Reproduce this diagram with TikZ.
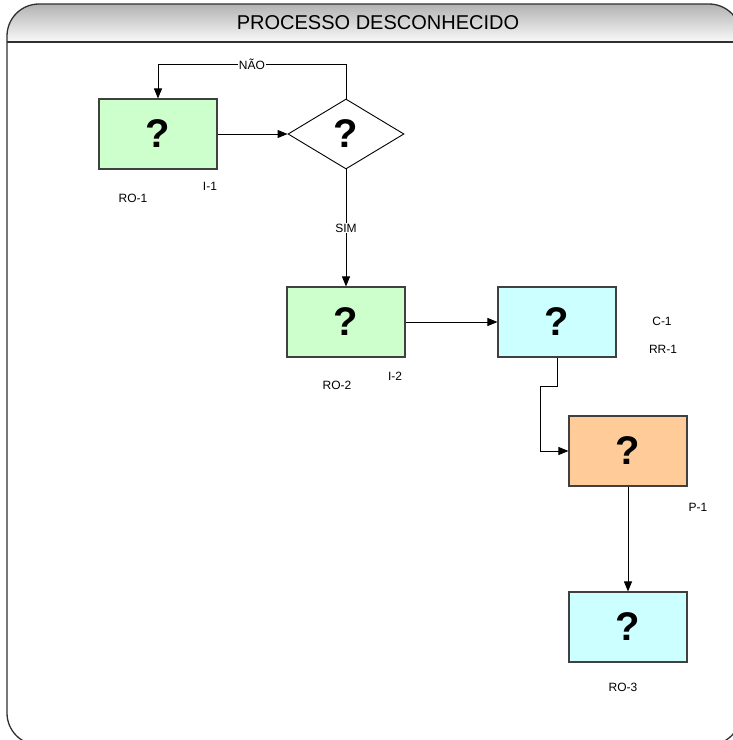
\documentclass[tikz,border=0pt]{standalone}
\usepackage{fontspec}
\setmainfont{Liberation Sans}
\usetikzlibrary{shapes.geometric,arrows.meta}

\definecolor{boxline}{HTML}{404040}
\definecolor{framecol}{HTML}{303030}
\definecolor{greenfill}{HTML}{CCFFCC}
\definecolor{cyanfill}{HTML}{CCFFFF}
\definecolor{orangefill}{HTML}{FFCC99}

\tikzset{
  qbox/.style={rectangle, draw=boxline, line width=1.1pt, minimum width=118pt,
    minimum height=70pt, inner sep=0pt, font=\bfseries\fontsize{40}{40}\selectfont},
  qdiamond/.style={diamond, draw=black, line width=0.9pt, minimum width=116pt,
    minimum height=70pt, inner sep=0pt, aspect=1.66,
    font=\bfseries\fontsize{40}{40}\selectfont},
  lbl/.style={font=\fontsize{12}{14}\selectfont, inner sep=1pt},
  arr/.style={draw=black, line width=0.9pt, -{Triangle[length=10pt,width=8pt]}},
  framestyle/.style={draw=framecol, line width=1.3pt, rounded corners=32pt},
}

\begin{document}
\begin{tikzpicture}[x=1pt, y=-1pt]
  \useasboundingbox (0,0) rectangle (733,740);
  \clip (0,0) rectangle (733,740);

  % outer frame with shaded title band
  \begin{scope}
    \clip[rounded corners=32pt] (7,4) rectangle (741,745);
    \shade[top color=black!30, bottom color=black!2] (7,4) rectangle (741,42);
  \end{scope}
  \draw[framecol, line width=1.3pt] (7,42) -- (741,42);
  \draw[framestyle] (7,4) rectangle (741,745);
  \node[font=\fontsize{20}{22}\selectfont] (title) at (378,23) {PROCESSO DESCONHECIDO};

  % process steps
  \node[qbox, fill=greenfill] (b1) at (158,134) {?};
  \node[qdiamond, fill=white] (dec) at (346,134) {?};
  \node[qbox, fill=greenfill] (b2) at (346,322) {?};
  \node[qbox, fill=cyanfill] (c1) at (557,322) {?};
  \node[qbox, fill=orangefill] (p1) at (628,451) {?};
  \node[qbox, fill=cyanfill] (r3) at (628,627) {?};

  % step labels
  \node[lbl] (li1) at (210,186) {I-1};
  \node[lbl] (lro1) at (133,198) {RO-1};
  \node[lbl] (li2) at (395,376) {I-2};
  \node[lbl] (lro2) at (337,385) {RO-2};
  \node[lbl] (lc1) at (662,321) {C-1};
  \node[lbl] (lrr1) at (663,349) {RR-1};
  \node[lbl] (lp1) at (698,507) {P-1};
  \node[lbl] (lro3) at (623,687) {RO-3};

  % connectors
  \coordinate (looptop) at (346,64);
  \coordinate (bend) at (540,386);
  \draw[arr] (b1.east) -- (dec.west);
  \draw[arr] (dec.north) -- (looptop) -| node[pos=0.25, lbl, fill=white] {NÃO} (b1.north);
  \draw[arr] (dec.south) -- node[lbl, fill=white] {SIM} (b2.north);
  \draw[arr] (b2.east) -- (c1.west);
  \draw[arr] (c1.south) |- (bend) |- (p1.west);
  \draw[arr] (p1.south) -- (r3.north);
\end{tikzpicture}
\end{document}
